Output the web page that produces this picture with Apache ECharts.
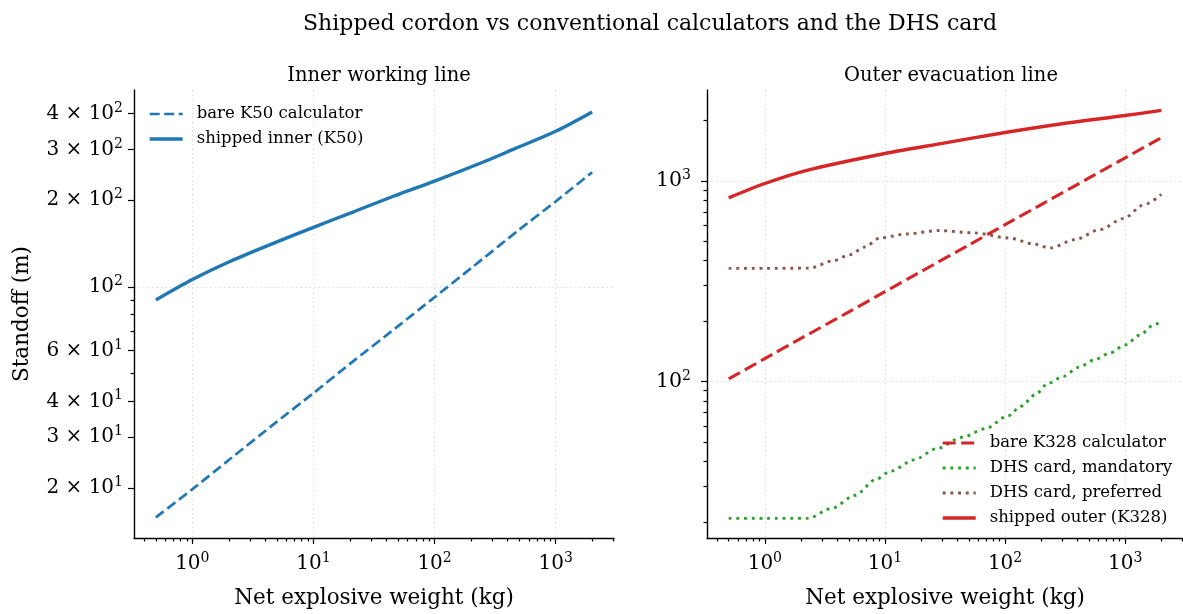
<!DOCTYPE html>
<html>
<head>
<meta charset="utf-8">
<script src="https://cdn.jsdelivr.net/npm/echarts@6/dist/echarts.min.js"></script>
<style>
  html, body { margin: 0; padding: 0; background: #fff; }
  #chart { width: 1183px; height: 614px; }
</style>
</head>
<body>
<div id="chart"></div>
<script>
// values (net explosive weight in kg, standoff in m)
const wCube = [0.5, 1, 2, 5, 10, 20, 50, 100, 200, 500, 1000, 2000];
const bareK50 = [15.8, 19.8, 25, 34, 42.7, 54, 73, 92, 116, 158, 198, 250];
const bareK328 = [103, 130, 164, 222, 280, 353, 479, 604, 761, 1033, 1301, 1639];

const wInner = [0.5, 1, 2, 4, 10, 22, 48, 100, 250, 460, 1000, 2000];
const shippedInner = [90, 106, 122, 138, 161, 183, 208, 233, 271, 302, 347, 405];

const wOuter = [0.5, 1, 2.2, 10, 30, 100, 330, 1000, 2000];
const shippedOuter = [822, 969, 1124, 1367, 1535, 1740, 1941, 2114, 2244];

const wMandatory = [0.5, 1, 2.29, 3.64, 5.64, 8.41, 11.2, 17.5, 26.8, 44, 68.7, 105, 136, 178, 227, 306, 408, 550, 746, 998, 1321, 1726, 2000];
const dhsMandatory = [20.8, 20.8, 20.8, 23.4, 27.1, 32.5, 35.8, 40.7, 46.2, 52.7, 58.2, 67.2, 75.3, 85.8, 97.7, 106, 117.5, 127.8, 138.6, 152, 170, 191, 200];

const wPreferred = [0.5, 1, 2.36, 3.7, 5.1, 6.8, 9.1, 15, 28, 55, 107, 173, 237, 382, 616, 961, 1450, 2000];
const dhsPreferred = [366, 366, 367, 399, 428, 468, 519, 543, 565, 550, 519, 484, 462, 509, 571, 648, 762, 855];

// tick labels
const xMajor = [1, 10, 100, 1000];
const yInnerLabels = [20, 30, 40, 60, 100, 200, 300, 400];
const yInnerMinor = [50, 70, 80, 90];
const yOuterLabels = [100, 1000];

const FONT = 'DejaVu Serif';
const BLUE = '#1f77b4', RED = '#d62728', GREEN = '#2ca02c', BROWN = '#8c564b';

function pairs(xs, ys) { return xs.map((x, i) => [x, ys[i]]); }

// minor log ticks (2..9 x 10^n) inside [lo, hi]
function minorTicks(lo, hi) {
  const out = [];
  for (let e = -2; e <= 4; e++) {
    for (let m = 2; m <= 9; m++) {
      const v = +(m * Math.pow(10, e)).toPrecision(3);
      if (v >= lo && v <= hi) out.push(v);
    }
  }
  return out;
}

function sciLabel(v) {
  const e = Math.floor(Math.log10(v) + 1e-9);
  const m = Math.round(v / Math.pow(10, e));
  return (m === 1 ? '' : m + ' × ') + '10{sup|' + e + '}';
}

const labelRich = { sup: { fontFamily: FONT, fontSize: 14, color: '#000', padding: [0, 0, 11, 0] } };
const gridLine = { show: true, lineStyle: { type: [1.5, 3], color: '#dcdcdc', width: 1 } };
const tickStyle = { color: '#000', width: 1.2 };

const xRange = [0.33, 3030];
const yInner = [13.4, 483];
const yOuter = [16.6, 2833];

function mainX(grid) {
  return {
    type: 'log', gridIndex: grid, position: 'bottom', min: xRange[0], max: xRange[1],
    axisLine: { show: true, onZero: false, lineStyle: { color: '#000', width: 1.4 } },
    axisTick: { show: true, customValues: xMajor, length: 6, lineStyle: tickStyle },
    axisLabel: { customValues: xMajor, formatter: sciLabel, fontFamily: FONT, fontSize: 20, color: '#000', margin: 13, rich: labelRich },
    splitLine: gridLine,
    name: 'Net explosive weight (kg)', nameLocation: 'middle', nameGap: 49,
    nameTextStyle: { fontFamily: FONT, fontSize: 21.5, color: '#000' }
  };
}
function minorX(grid) {
  return {
    type: 'log', gridIndex: grid, position: 'bottom', min: xRange[0], max: xRange[1],
    axisLine: { show: false, onZero: false },
    axisTick: { show: true, customValues: minorTicks(xRange[0], xRange[1]), length: 3.5, lineStyle: tickStyle },
    axisLabel: { show: false }, splitLine: { show: false }
  };
}

const legendText = { fontFamily: FONT, fontSize: 16.5, color: '#000', lineHeight: 18, padding: [0, 0, 0, 9] };

const option = {
  animation: false,
  backgroundColor: '#fff',
  title: [
    { text: 'Shipped cordon vs conventional calculators and the DHS card', left: 645, top: 8, textAlign: 'center',
      textStyle: { fontFamily: FONT, fontSize: 22, fontWeight: 'normal', color: '#000' } },
    { text: 'Inner working line', left: 374, top: 61, textAlign: 'center',
      textStyle: { fontFamily: FONT, fontSize: 19.5, fontWeight: 'normal', color: '#000' } },
    { text: 'Outer evacuation line', left: 946, top: 61, textAlign: 'center',
      textStyle: { fontFamily: FONT, fontSize: 19.5, fontWeight: 'normal', color: '#000' } }
  ],
  grid: [
    { left: 134, top: 90, width: 480, height: 450 },
    { left: 707, top: 90, width: 478, height: 450 }
  ],
  legend: [
    { orient: 'vertical', left: 143, top: 100, itemWidth: 33, itemHeight: 14, itemGap: 7,
      itemStyle: { opacity: 0 }, lineStyle: { width: 'inherit' },
      data: ['bare K50 calculator', 'shipped inner (K50)'], textStyle: legendText },
    { orient: 'vertical', left: 936, top: 429, itemWidth: 33, itemHeight: 14, itemGap: 7,
      itemStyle: { opacity: 0 }, lineStyle: { width: 'inherit' },
      data: ['bare K328 calculator', 'DHS card, mandatory', 'DHS card, preferred', 'shipped outer (K328)'],
      textStyle: legendText }
  ],
  xAxis: [mainX(0), minorX(0), mainX(1), minorX(1)],
  yAxis: [
    { // left: labelled ticks
      type: 'log', gridIndex: 0, position: 'left', min: yInner[0], max: yInner[1],
      axisLine: { show: true, onZero: false, lineStyle: { color: '#000', width: 1.4 } },
      axisTick: { show: true, customValues: yInnerLabels, length: 6, lineStyle: tickStyle },
      axisLabel: { customValues: yInnerLabels, formatter: sciLabel, fontFamily: FONT, fontSize: 20, color: '#000', margin: 11, rich: labelRich },
      splitLine: { show: false },
      name: 'Standoff (m)', nameLocation: 'middle', nameGap: 101,
      nameTextStyle: { fontFamily: FONT, fontSize: 21.5, color: '#000' }
    },
    { // left: minor ticks
      type: 'log', gridIndex: 0, position: 'left', min: yInner[0], max: yInner[1],
      axisLine: { show: false, onZero: false },
      axisTick: { show: true, customValues: yInnerMinor, length: 3.5, lineStyle: tickStyle },
      axisLabel: { show: false }, splitLine: { show: false }
    },
    { // left: grid line at 10^2
      type: 'log', gridIndex: 0, position: 'left', min: yInner[0], max: yInner[1],
      axisLine: { show: false, onZero: false },
      axisTick: { show: false, customValues: [100] },
      axisLabel: { show: false, customValues: [100] },
      splitLine: gridLine
    },
    { // right: labelled ticks + grid
      type: 'log', gridIndex: 1, position: 'left', min: yOuter[0], max: yOuter[1],
      axisLine: { show: true, onZero: false, lineStyle: { color: '#000', width: 1.4 } },
      axisTick: { show: true, customValues: yOuterLabels, length: 6, lineStyle: tickStyle },
      axisLabel: { customValues: yOuterLabels, formatter: sciLabel, fontFamily: FONT, fontSize: 20.5, color: '#000', margin: 16, rich: labelRich },
      splitLine: gridLine
    },
    { // right: minor ticks
      type: 'log', gridIndex: 1, position: 'left', min: yOuter[0], max: yOuter[1],
      axisLine: { show: false, onZero: false },
      axisTick: { show: true, customValues: minorTicks(yOuter[0], yOuter[1]), length: 3.5, lineStyle: tickStyle },
      axisLabel: { show: false }, splitLine: { show: false }
    }
  ],
  series: [
    { name: 'bare K50 calculator', type: 'line', xAxisIndex: 0, yAxisIndex: 0, symbol: 'none', smooth: 0.2,
      data: pairs(wCube, bareK50), lineStyle: { color: BLUE, width: 2.7, type: [10, 4.5], cap: 'butt' }, itemStyle: { color: BLUE } },
    { name: 'shipped inner (K50)', type: 'line', xAxisIndex: 0, yAxisIndex: 0, symbol: 'none', smooth: 0.3,
      data: pairs(wInner, shippedInner), lineStyle: { color: BLUE, width: 3.4 }, itemStyle: { color: BLUE } },
    { name: 'bare K328 calculator', type: 'line', xAxisIndex: 2, yAxisIndex: 3, symbol: 'none', smooth: 0.2,
      data: pairs(wCube, bareK328), lineStyle: { color: RED, width: 3.1, type: [13, 5.5], cap: 'butt' }, itemStyle: { color: RED } },
    { name: 'DHS card, mandatory', type: 'line', xAxisIndex: 2, yAxisIndex: 3, symbol: 'none', smooth: 0.3, smoothMonotone: 'x',
      data: pairs(wMandatory, dhsMandatory), lineStyle: { color: GREEN, width: 2.9, type: [2.9, 4.8], cap: 'butt' }, itemStyle: { color: GREEN } },
    { name: 'DHS card, preferred', type: 'line', xAxisIndex: 2, yAxisIndex: 3, symbol: 'none', smooth: 0.3, smoothMonotone: 'x',
      data: pairs(wPreferred, dhsPreferred), lineStyle: { color: BROWN, width: 2.9, type: [2.9, 4.8], cap: 'butt' }, itemStyle: { color: BROWN } },
    { name: 'shipped outer (K328)', type: 'line', xAxisIndex: 2, yAxisIndex: 3, symbol: 'none', smooth: 0.3,
      data: pairs(wOuter, shippedOuter), lineStyle: { color: RED, width: 3.4 }, itemStyle: { color: RED } }
  ]
};

const chart = echarts.init(document.getElementById('chart'), null, { renderer: 'canvas' });
chart.setOption(option);
</script>
</body>
</html>
